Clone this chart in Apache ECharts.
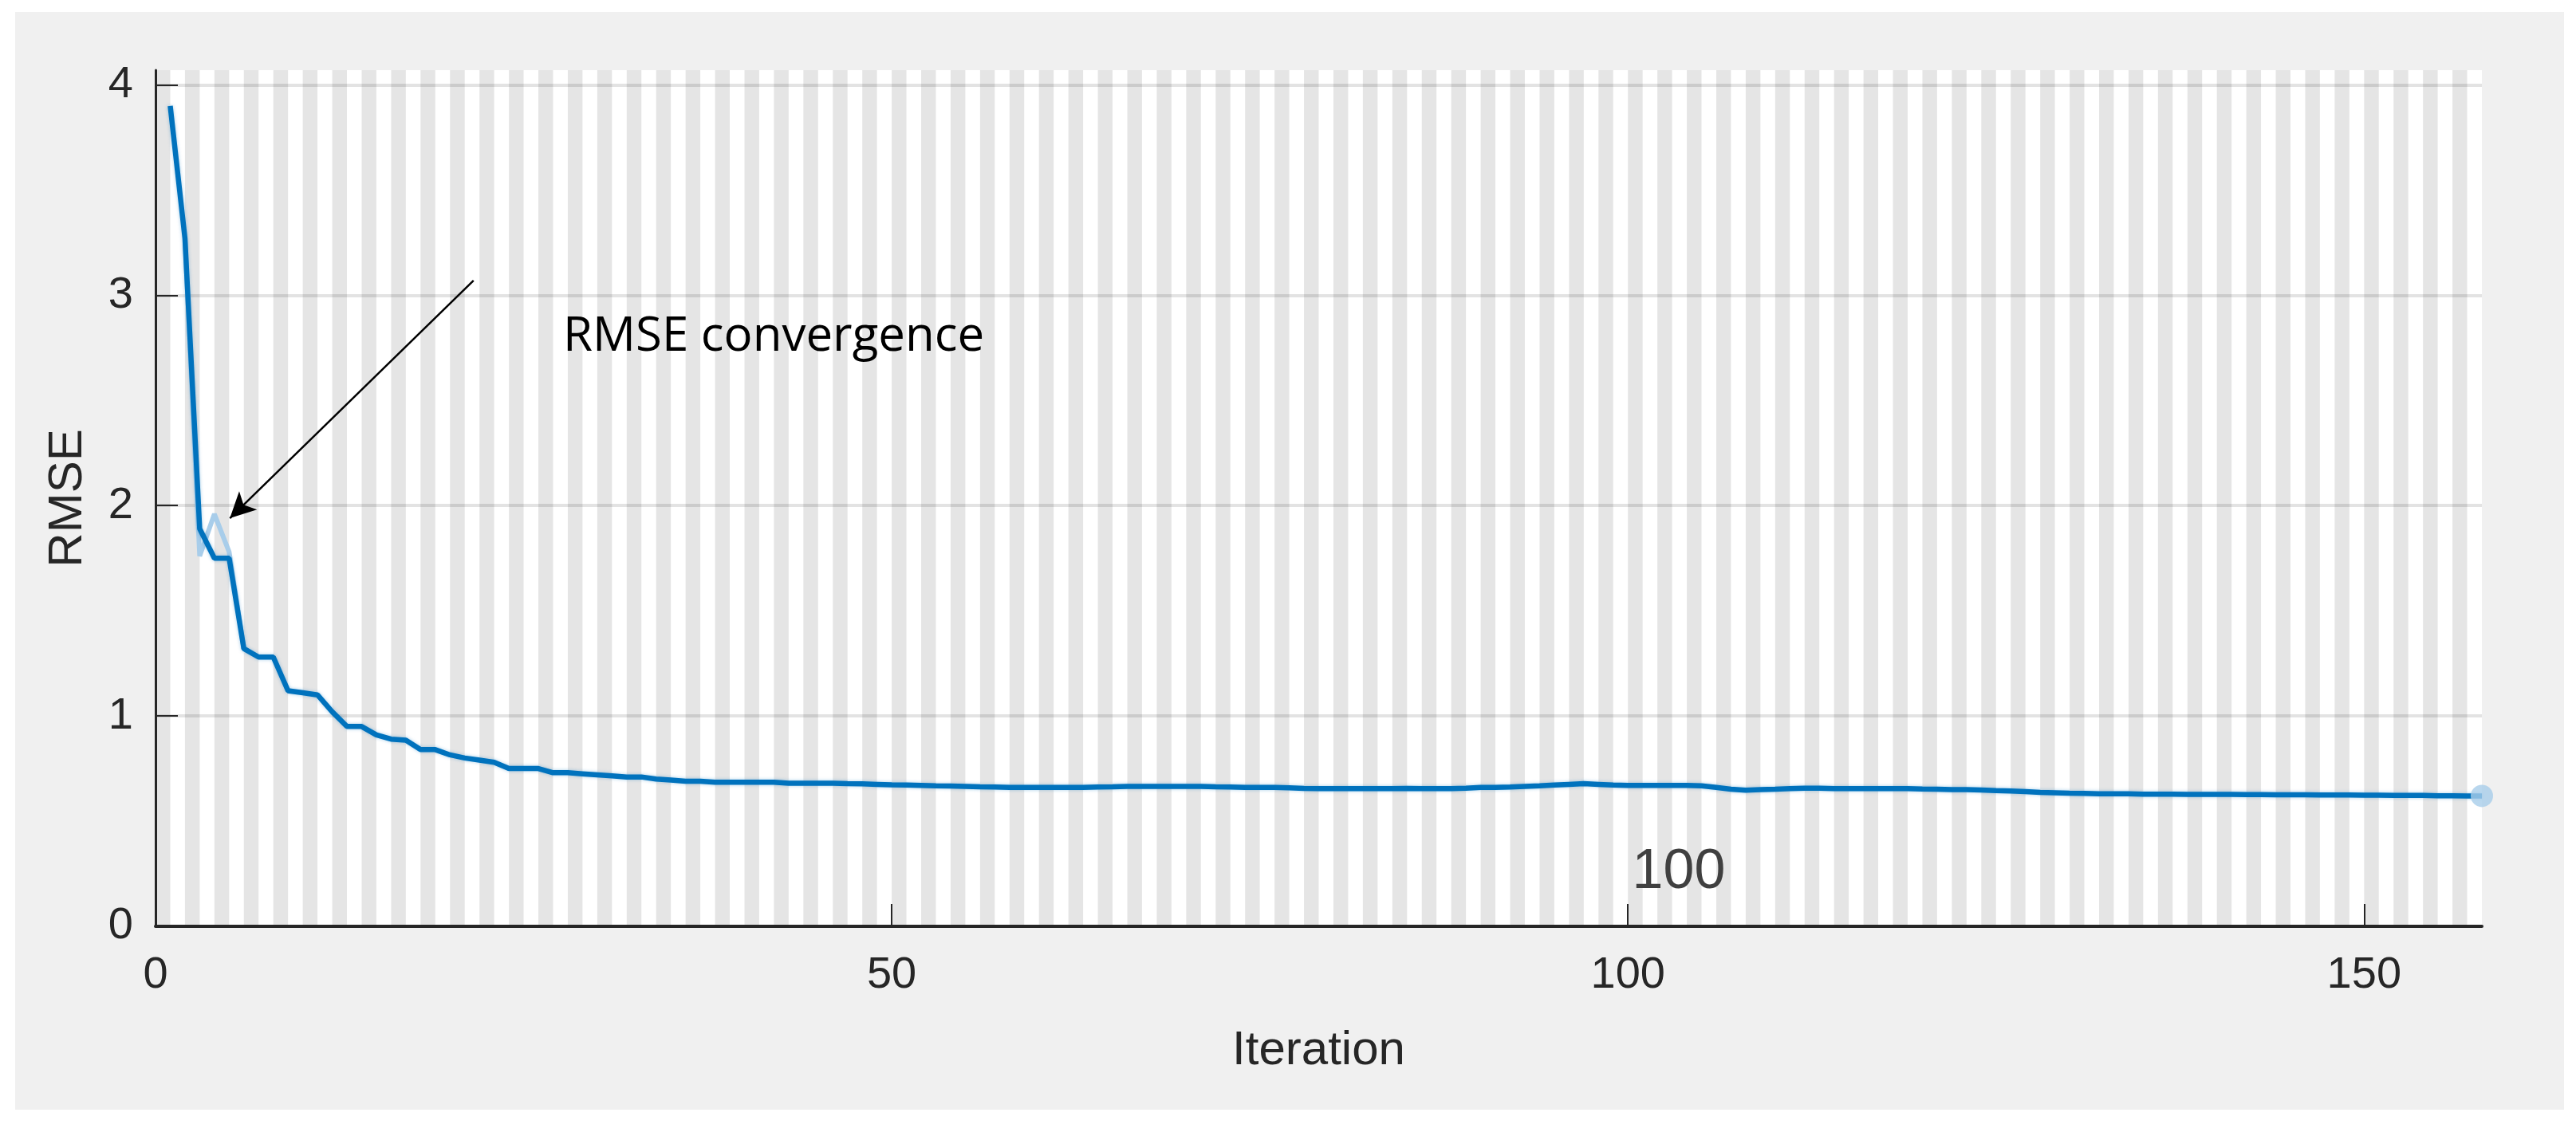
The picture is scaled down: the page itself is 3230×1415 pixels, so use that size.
<!DOCTYPE html>
<html>
<head>
<meta charset="utf-8">
<script src="https://cdn.jsdelivr.net/npm/echarts@6/dist/echarts.min.js"></script>
<style>
  html, body { margin: 0; padding: 0; background: #ffffff; }
  #chart { width: 3230px; height: 1415px; }
</style>
</head>
<body>
<div id="chart"></div>
<script>
// RMSE per iteration (1..158)
const RMSE = [
  3.90, 3.27, 1.89, 1.75, 1.75, 1.32, 1.28, 1.28, 1.12, 1.11,
  1.10, 1.02, 0.95, 0.95, 0.91, 0.89, 0.885, 0.84, 0.84, 0.815,
  0.80, 0.79, 0.78, 0.75, 0.75, 0.75, 0.73, 0.73, 0.725, 0.72,
  0.715, 0.71, 0.71, 0.70, 0.695, 0.69, 0.69, 0.685, 0.685, 0.685,
  0.685, 0.685, 0.68, 0.68, 0.68, 0.68, 0.678, 0.677, 0.675, 0.673,
  0.672, 0.67, 0.668, 0.667, 0.665, 0.663, 0.662, 0.66, 0.66, 0.66,
  0.66, 0.66, 0.66, 0.662, 0.663, 0.665, 0.665, 0.665, 0.665, 0.665,
  0.665, 0.663, 0.662, 0.66, 0.66, 0.66, 0.658, 0.656, 0.655, 0.655,
  0.655, 0.655, 0.655, 0.655, 0.656, 0.655, 0.655, 0.655, 0.657, 0.66,
  0.66, 0.662, 0.665, 0.668, 0.672, 0.675, 0.678, 0.675, 0.672, 0.67,
  0.67, 0.67, 0.67, 0.67, 0.668, 0.66, 0.652, 0.647, 0.65, 0.652,
  0.655, 0.657, 0.657, 0.655, 0.655, 0.655, 0.655, 0.655, 0.655, 0.653,
  0.652, 0.65, 0.65, 0.648, 0.645, 0.643, 0.64, 0.637, 0.635, 0.633,
  0.632, 0.63, 0.63, 0.63, 0.628, 0.628, 0.628, 0.627, 0.627, 0.627,
  0.627, 0.626, 0.626, 0.625, 0.625, 0.625, 0.624, 0.624, 0.624, 0.623,
  0.623, 0.622, 0.622, 0.622, 0.621, 0.621, 0.62, 0.62
]
const ITER = RMSE.map((v, i) => i + 1)

// faint light-blue trace visible near iterations 2..6
const GHOST_ITER = [2, 3, 4, 5, 6]
const GHOST_RMSE = [3.27, 1.76, 1.96, 1.78, 1.32]

const X_TICKS = [0, 50, 100, 150]
const Y_TICKS = [0, 1, 2, 3, 4]
const X_MAX = 158
const Y_MAX = 4.07

// annotation arrow, in data coordinates
const ARROW_FROM = [21.6, 3.07]
const ARROW_TO = [5.05, 1.94]

const AXIS_COLOR = '#262626'
const LINE_COLOR = '#0072bd'
const LIGHT_BLUE = '#a8cdea'

const chart = echarts.init(document.getElementById('chart'))

const option = {
  backgroundColor: '#ffffff',
  animation: false,
  graphic: [
    {
      type: 'rect',
      z: -10,
      shape: { x: 19, y: 15, width: 3196, height: 1377 },
      style: { fill: '#f0f0f0' },
    },
    {
      type: 'text',
      z: 50,
      style: {
        x: 706, y: 423,
        text: 'RMSE convergence',
        font: '60px "Open Sans"',
        fill: '#000000',
        verticalAlign: 'middle',
      },
    },
    {
      type: 'text',
      z: 50,
      style: {
        x: 2105, y: 1095,
        text: '100',
        font: '70px "Liberation Sans"',
        fill: '#404040',
        align: 'center',
        verticalAlign: 'middle',
      },
    },
  ],
  grid: {
    left: 195,
    right: 118,
    top: 88,
    bottom: 253,
    show: true,
    backgroundColor: '#ffffff',
    borderWidth: 0,
  },
  xAxis: [
    {
      type: 'value',
      min: 0,
      max: X_MAX,
      interval: 50,
      name: 'Iteration',
      nameLocation: 'middle',
      nameGap: 126,
      nameTextStyle: { fontFamily: 'Liberation Sans', fontSize: 60, color: AXIS_COLOR },
      axisLine: { show: true, onZero: false, lineStyle: { color: AXIS_COLOR, width: 4 } },
      axisTick: { show: true, inside: true, length: 28, customValues: X_TICKS, lineStyle: { color: AXIS_COLOR, width: 2 } },
      axisLabel: { customValues: X_TICKS, margin: 34, fontFamily: 'Liberation Sans', fontSize: 56, color: AXIS_COLOR },
      splitLine: { show: false },
    },
    {
      // stripes behind the plot, one band per iteration
      type: 'value',
      min: 0,
      max: X_MAX,
      interval: 1,
      position: 'bottom',
      axisLine: { show: false },
      axisTick: { show: false },
      axisLabel: { show: false },
      splitLine: { show: false },
      splitArea: { show: true, areaStyle: { color: ['rgba(0,0,0,0.1)', 'rgba(0,0,0,0)'] } },
    },
  ],
  yAxis: {
    type: 'value',
    min: 0,
    max: Y_MAX,
    interval: 1,
    name: 'RMSE',
    nameLocation: 'middle',
    nameGap: 80,
    nameTextStyle: { fontFamily: 'Liberation Sans', fontSize: 60, color: AXIS_COLOR },
    axisLine: { show: true, lineStyle: { color: AXIS_COLOR, width: 3 } },
    axisTick: { show: true, inside: true, length: 28, customValues: Y_TICKS, lineStyle: { color: AXIS_COLOR, width: 2 } },
    axisLabel: { customValues: Y_TICKS, margin: 28, fontFamily: 'Liberation Sans', fontSize: 56, color: AXIS_COLOR },
    splitLine: { show: true, lineStyle: { color: 'rgba(38,38,38,0.13)', width: 4 } },
  },
  series: [
    {
      type: 'line',
      xAxisIndex: 0,
      data: GHOST_ITER.map((x, i) => [x, GHOST_RMSE[i]]),
      symbol: 'none',
      z: 2,
      lineStyle: { color: LIGHT_BLUE, width: 6 },
      silent: true,
    },
    {
      type: 'line',
      xAxisIndex: 0,
      data: ITER.map((x, i) => [x, RMSE[i]]),
      symbol: 'none',
      z: 3,
      lineStyle: { color: LINE_COLOR, width: 6.5, shadowColor: 'rgba(0,114,189,0.35)', shadowBlur: 4 },
      silent: true,
      markLine: {
        silent: true,
        symbol: ['none', 'arrow'],
        symbolSize: [24, 32],
        label: { show: false },
        lineStyle: { color: '#000000', width: 2.5, type: 'solid' },
        data: [[{ coord: ARROW_FROM }, { coord: ARROW_TO }]],
      },
    },
    {
      type: 'scatter',
      xAxisIndex: 0,
      data: [[ITER[ITER.length - 1], RMSE[RMSE.length - 1]]],
      symbol: 'circle',
      symbolSize: 28,
      z: 4,
      itemStyle: { color: LIGHT_BLUE },
      silent: true,
    },
  ],
}

chart.setOption(option)
</script>
</body>
</html>
